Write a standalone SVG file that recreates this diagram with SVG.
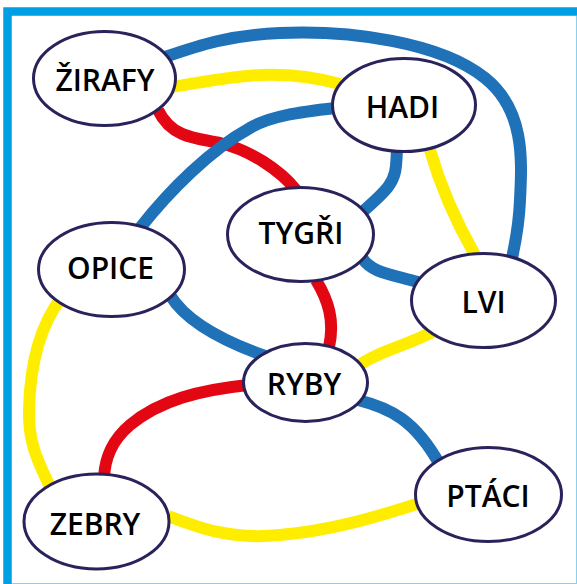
<svg xmlns="http://www.w3.org/2000/svg" width="577" height="584" viewBox="0 0 577 584">
<style>
.e{fill:none;stroke-width:12;stroke-linecap:butt}
.b{stroke:#1F71B8}
.r{stroke:#E30613}
.y{stroke:#FFED00}
.n ellipse{fill:#fff;stroke:#29235C;stroke-width:3}
.n text{font-family:"Open Sans","Liberation Sans",sans-serif;font-weight:600;font-size:30px;fill:#000;text-anchor:middle}
</style>
<rect width="577" height="584" fill="#fff"/>
<rect x="7.5" y="11.5" width="620" height="620" fill="none" stroke="#009FE3" stroke-width="8.5"/>
<line x1="576.5" y1="16" x2="576.5" y2="584" stroke="#8CCFEF" stroke-width="1"/>
<line x1="12" y1="583.5" x2="577" y2="583.5" stroke="#8CCFEF" stroke-width="1"/>
<g id="connectors">
<path class="e b" d="M 165 57 C 200 45 230 35 280 33 C 350 30 440 42 485 78 C 525 110 522 160 520 200 C 519 225 516 240 512 258"/>
<path class="e y" d="M 172 87 C 220 80 270 65 340 84"/>
<path class="e r" d="M 158 110 C 170 135 190 138 220 143 C 250 150 280 170 296 190"/>
<path class="e b" d="M 335 108 C 300 112 270 116 250 128 C 210 150 170 190 140 228"/>
<path class="e b" d="M 397 150 C 396 165 397 175 388 187 C 380 197 370 205 360 214"/>
<path class="e y" d="M 430 150 C 440 185 455 220 475 255"/>
<path class="e b" d="M 362 258 C 372 272 385 273 418 282"/>
<path class="e r" d="M 316 280 C 328 300 335 320 329 347"/>
<path class="e b" d="M 170 295 C 185 320 220 340 265 356"/>
<path class="e y" d="M 62 297 C 40 325 30 365 29 410 C 28 445 40 465 50 487"/>
<path class="e r" d="M 248 385 C 200 390 160 400 130 425 C 110 442 105 460 104 477"/>
<path class="e y" d="M 358 366 C 380 350 410 345 436 330"/>
<path class="e b" d="M 358 400 C 390 408 415 420 440 465"/>
<path class="e y" d="M 168 516 C 200 528 230 540 280 535 C 340 530 390 512 420 503"/>
</g>
<g id="zirafy" class="n"><ellipse cx="104.5" cy="78.5" rx="71" ry="47"/><text x="105" y="91">ŽIRAFY</text></g>
<g id="hadi" class="n"><ellipse cx="404" cy="105" rx="71.5" ry="46.5"/><text x="402.5" y="118">HADI</text></g>
<g id="tygri" class="n"><ellipse cx="300.5" cy="234.5" rx="73" ry="47"/><text x="301" y="244">TYGŘI</text></g>
<g id="opice" class="n"><ellipse cx="111.5" cy="269.5" rx="73" ry="47"/><text x="110.5" y="279">OPICE</text></g>
<g id="lvi" class="n"><ellipse cx="483.5" cy="300.5" rx="72" ry="47"/><text x="483.5" y="313">LVI</text></g>
<g id="ryby" class="n"><ellipse cx="305.5" cy="382.5" rx="62" ry="39"/><text x="304" y="395">RYBY</text></g>
<g id="zebry" class="n"><ellipse cx="96.5" cy="521.5" rx="72.5" ry="47.5"/><text x="95" y="535">ZEBRY</text></g>
<g id="ptaci" class="n"><ellipse cx="488.5" cy="494.5" rx="73" ry="47"/><text x="488" y="507">PTÁCI</text></g>
</svg>
